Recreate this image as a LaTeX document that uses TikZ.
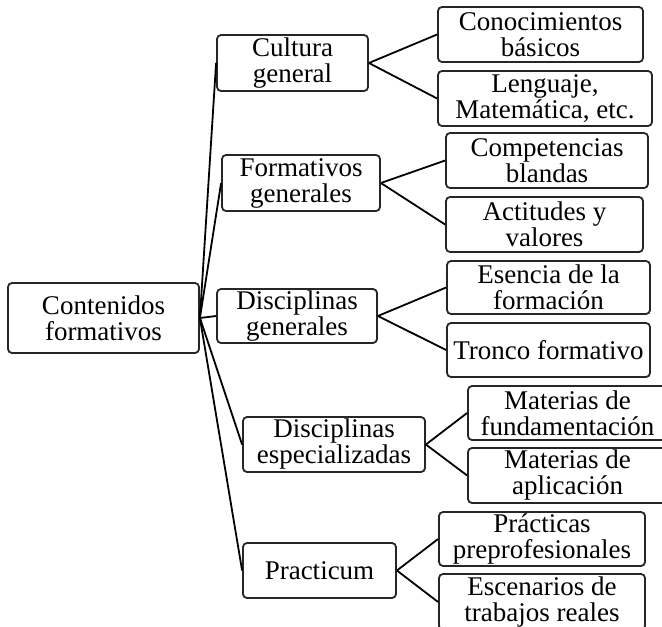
\documentclass[tikz,border=0pt]{standalone}
\usepackage{fontspec}
\setmainfont{Liberation Serif}
\begin{document}
\begin{tikzpicture}[
            x=1pt, y=-1pt,
            every node/.style={draw=black!85, line width=1.8pt, rounded corners=4pt, align=center,
                inner sep=0pt, font=\fontsize{27}{26}\selectfont},
            link/.style={draw, line width=1.8pt}
        ]

            \clip (0,0) rectangle (662,627);

            \node[minimum width=191, minimum height=70] (root) at (103.5,318) {Contenidos \\ formativos};

            \node[minimum width=151, minimum height=56] (cultura) at (292.5,63) {Cultura \\ general};
            \node[minimum width=158, minimum height=56] (formgen) at (301,183) {Formativos \\ generales};
            \node[minimum width=160, minimum height=54] (discgen) at (297,316) {Disciplinas \\ generales};
            \node[minimum width=182, minimum height=55] (discesp) at (334,444.5) {Disciplinas \\ especializadas};
            \node[minimum width=153, minimum height=55] (practicum) at (319.5,570.5) {Practicum};

            \node[minimum width=205, minimum height=55] (conoc) at (540.5,34.5) {Conocimientos \\ básicos};
            \node[minimum width=214, minimum height=55] (lenguaje) at (545,98.5) {Lenguaje, \\ Matemática, etc.};
            \node[minimum width=202, minimum height=55] (compet) at (547,160.5) {Competencias \\ blandas};
            \node[minimum width=197, minimum height=55] (actit) at (544.5,224.5) {Actitudes y \\ valores};
            \node[minimum width=203, minimum height=53] (esencia) at (548.5,287.5) {Esencia de la \\ formación};
            \node[minimum width=203, minimum height=54] (tronco) at (548.5,350) {Tronco formativo};
            \node[minimum width=199, minimum height=54] (matfund) at (567.5,413) {Materias de \\ fundamentación};
            \node[minimum width=199, minimum height=55] (matapl) at (567.5,475.5) {Materias de \\ aplicación};
            \node[minimum width=206, minimum height=54] (practicas) at (542,539) {Prácticas \\ preprofesionales};
            \node[minimum width=206, minimum height=56] (escen) at (542,602) {Escenarios de \\ trabajos reales};

            \draw[link] (root.east) -- (cultura.west);
            \draw[link] (root.east) -- (formgen.west);
            \draw[link] (root.east) -- (discgen.west);
            \draw[link] (root.east) -- (discesp.west);
            \draw[link] (root.east) -- (practicum.west);

            \draw[link] (cultura.east) -- (conoc.west);
            \draw[link] (cultura.east) -- (lenguaje.west);
            \draw[link] (formgen.east) -- (compet.west);
            \draw[link] (formgen.east) -- (actit.west);
            \draw[link] (discgen.east) -- (esencia.west);
            \draw[link] (discgen.east) -- (tronco.west);
            \draw[link] (discesp.east) -- (matfund.west);
            \draw[link] (discesp.east) -- (matapl.west);
            \draw[link] (practicum.east) -- (practicas.west);
            \draw[link] (practicum.east) -- (escen.west);

        \end{tikzpicture}
\end{document}
